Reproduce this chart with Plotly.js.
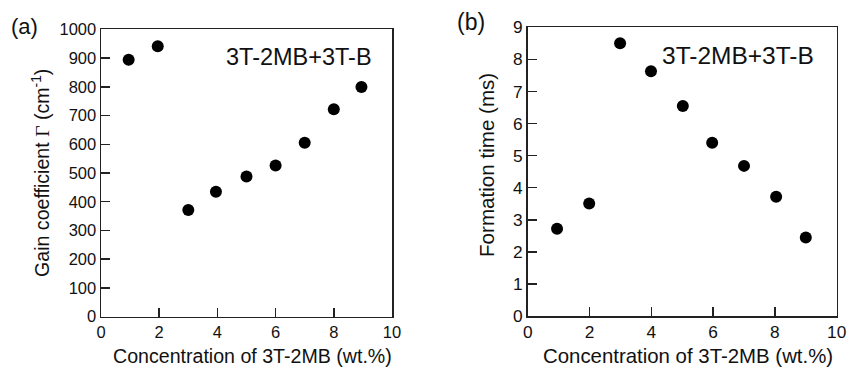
<!DOCTYPE html>
<html>
<head>
<meta charset="utf-8">
<script src="https://cdn.plot.ly/plotly-3.0.1.min.js"></script>
<style>html,body{margin:0;padding:0;background:#fff;}#chart{width:849px;height:368px;}</style>
</head>
<body>
<div id="chart"></div>
<script>
// Panel (a): gain coefficient vs concentration
const concA = [0.95, 1.95, 3.0, 3.95, 5.0, 6.0, 7.0, 8.0, 8.95];
const gainA = [894, 941, 371, 435, 488, 526, 605, 722, 799];
// Panel (b): formation time vs concentration
const concB = [0.95, 1.99, 2.99, 3.99, 5.02, 5.97, 7.0, 8.04, 9.0];
const timeB = [2.72, 3.51, 8.50, 7.63, 6.55, 5.40, 4.68, 3.72, 2.45];
const xTicks = [0, 2, 4, 6, 8, 10];
const yTicksA = [0, 100, 200, 300, 400, 500, 600, 700, 800, 900, 1000];
const yTicksB = [0, 1, 2, 3, 4, 5, 6, 7, 8, 9];

const W = 849, H = 368;
const FONT = 'Liberation Sans, Arial, sans-serif';
const px = v => v / W;
const py = v => (H - v) / H;

const axisBase = {
  showgrid: false, zeroline: false, showline: true, mirror: true,
  linecolor: '#222', linewidth: 1.5, ticks: 'inside', ticklen: 9,
  tickwidth: 1.5, tickcolor: '#222', fixedrange: true
};

const traces = [
  {x: concA, y: gainA, xaxis: 'x', yaxis: 'y', type: 'scatter', mode: 'markers',
   marker: {color: '#000', size: 12}, showlegend: false},
  {x: concB, y: timeB, xaxis: 'x2', yaxis: 'y2', type: 'scatter', mode: 'markers',
   marker: {color: '#000', size: 12}, showlegend: false}
];

const layout = {
  width: W, height: H,
  margin: {l: 0, r: 0, t: 0, b: 0},
  paper_bgcolor: '#fff', plot_bgcolor: '#fff',
  font: {family: FONT, color: '#111'},
  xaxis: Object.assign({}, axisBase, {domain: [px(101), px(392)], range: [0, 10],
    tickvals: xTicks, ticktext: xTicks.map(String), anchor: 'y',
    tickfont: {size: 16.5, family: FONT}}),
  yaxis: Object.assign({}, axisBase, {domain: [py(316.7), py(29.3)], range: [0, 1000],
    tickvals: yTicksA, ticktext: yTicksA.map(String), anchor: 'x',
    tickfont: {size: 16.5, family: FONT}}),
  xaxis2: Object.assign({}, axisBase, {domain: [px(527.7), px(836.7)], range: [0, 10],
    tickvals: xTicks, ticktext: xTicks.map(String), anchor: 'y2',
    tickfont: {size: 17.3, family: FONT}}),
  yaxis2: Object.assign({}, axisBase, {domain: [py(316), py(27.3)], range: [0, 9],
    tickvals: yTicksB, ticktext: yTicksB.map(String), anchor: 'x2',
    tickfont: {size: 17.3, family: FONT}}),
  annotations: [
    {text: '(a)', x: px(24), y: py(26.5), xref: 'paper', yref: 'paper', showarrow: false,
     xanchor: 'center', yanchor: 'middle', font: {size: 22, family: FONT, color: '#111'}},
    {text: '(b)', x: px(471), y: py(22.5), xref: 'paper', yref: 'paper', showarrow: false,
     xanchor: 'center', yanchor: 'middle', font: {size: 23, family: FONT, color: '#111'}},
    {text: '3T-2MB+3T-B', x: px(299), y: py(57), xref: 'paper', yref: 'paper', showarrow: false,
     xanchor: 'center', yanchor: 'middle', font: {size: 23.5, family: FONT, color: '#111'}},
    {text: '3T-2MB+3T-B', x: px(738), y: py(55), xref: 'paper', yref: 'paper', showarrow: false,
     xanchor: 'center', yanchor: 'middle', font: {size: 24.5, family: FONT, color: '#111'}},
    {text: 'Concentration of 3T-2MB (wt.%)', x: px(252.5), y: py(355.5), xref: 'paper', yref: 'paper',
     showarrow: false, xanchor: 'center', yanchor: 'middle', font: {size: 19.6, family: FONT, color: '#111'}},
    {text: 'Concentration of 3T-2MB (wt.%)', x: px(688), y: py(355.5), xref: 'paper', yref: 'paper',
     showarrow: false, xanchor: 'center', yanchor: 'middle', font: {size: 20.4, family: FONT, color: '#111'}},
    {text: 'Gain coefficient <span style="font-family:Liberation Serif, Times New Roman, serif">Γ</span> (cm<sup>-1</sup>)',
     x: px(41), y: py(173), xref: 'paper', yref: 'paper', textangle: -90,
     showarrow: false, xanchor: 'center', yanchor: 'middle', font: {size: 19.6, family: FONT, color: '#111'}},
    {text: 'Formation time (ms)', x: px(486), y: py(165), xref: 'paper', yref: 'paper', textangle: -90,
     showarrow: false, xanchor: 'center', yanchor: 'middle', font: {size: 20.6, family: FONT, color: '#111'}}
  ]
};

Plotly.newPlot('chart', traces, layout, {displayModeBar: false, staticPlot: true});
</script>
</body>
</html>
